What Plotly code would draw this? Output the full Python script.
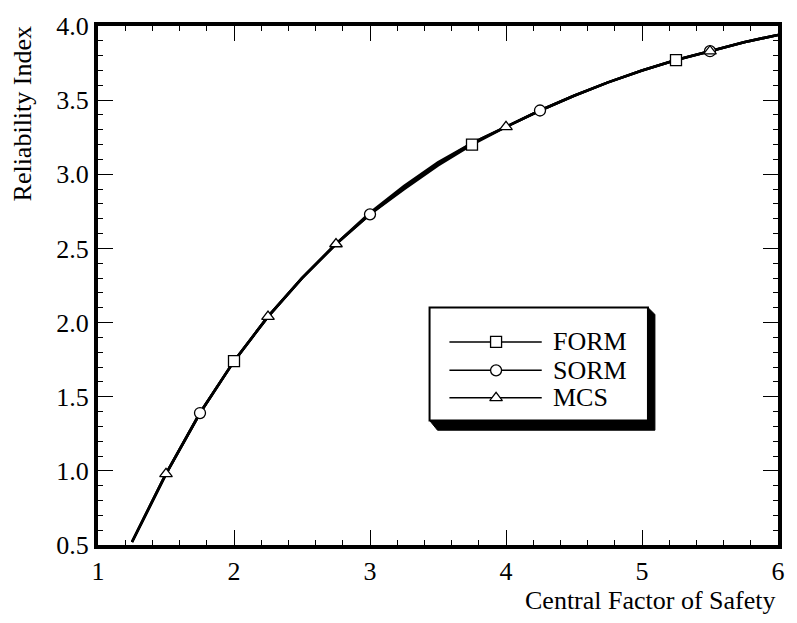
import plotly.graph_objects as go

# ---- data ----
cfs = [1.25, 1.5, 1.75, 2.0, 2.25, 2.5, 2.75, 3.0, 3.25, 3.5, 3.75,
       4.0, 4.25, 4.5, 4.75, 5.0, 5.25, 5.5, 5.75, 6.0]
beta_form = [0.52, 0.98, 1.39, 1.74, 2.04, 2.30, 2.53, 2.73, 2.90, 3.06, 3.20,
             3.32, 3.43, 3.53, 3.62, 3.70, 3.77, 3.83, 3.89, 3.94]
beta_sorm = [0.52, 0.98, 1.39, 1.74, 2.04, 2.30, 2.53, 2.73, 2.91, 3.07, 3.21,
             3.32, 3.43, 3.53, 3.62, 3.70, 3.77, 3.83, 3.89, 3.94]
beta_mcs = [0.52, 0.98, 1.39, 1.74, 2.04, 2.30, 2.53, 2.74, 2.92, 3.08, 3.21,
            3.32, 3.43, 3.53, 3.62, 3.70, 3.77, 3.83, 3.89, 3.94]
form_marks = [2.0, 3.75, 5.25]
sorm_marks = [1.75, 3.0, 4.25, 5.5]
mcs_marks = [1.5, 2.25, 2.75, 4.0, 5.5]
series_names = ["FORM", "SORM", "MCS"]
series_symbols = ["square", "circle", "triangle-up"]
x_ticks = [1, 2, 3, 4, 5, 6]
y_ticks = [0.5, 1.0, 1.5, 2.0, 2.5, 3.0, 3.5, 4.0]

FONT = "Liberation Serif"
FS = 26
series = [(beta_form, form_marks), (beta_sorm, sorm_marks), (beta_mcs, mcs_marks)]

fig = go.Figure()
for (ys, marks), name, sym in zip(series, series_names, series_symbols):
    fig.add_trace(go.Scatter(x=cfs, y=ys, mode="lines", showlegend=False,
                             line=dict(color="black", width=2.6)))
for (ys, marks), name, sym in zip(series, series_names, series_symbols):
    my = [ys[cfs.index(m)] for m in marks]
    fig.add_trace(go.Scatter(x=marks, y=my, mode="markers", showlegend=False,
                             marker=dict(symbol=sym, size=11,
                                         color="white", line=dict(color="black", width=1.3))))

# ---- hand-drawn legend on an overlay pixel-scaled axis ----
L, T, R, B = 432, 303, 652, 418
shapes = [
    dict(type="path", xref="x2", yref="y2", layer="below",
         path=f"M {R} {T} L {R+7} {T+7} L {R+7} {B+10} L {L+8} {B+10} L {L} {B} Z",
         fillcolor="black", line=dict(color="black", width=1)),
    dict(type="rect", xref="x2", yref="y2", layer="below", x0=L, y0=T, x1=R, y1=B,
         fillcolor="white", line=dict(color="black", width=2)),
]
row_y = [338, 367, 395]
for yy, name, sym in zip(row_y, series_names, series_symbols):
    shapes.append(dict(type="line", xref="x2", yref="y2", layer="below",
                       x0=452, x1=545, y0=yy, y1=yy, line=dict(color="black", width=1.5)))
    fig.add_trace(go.Scatter(x=[499], y=[yy], xaxis="x2", yaxis="y2", mode="markers",
                             showlegend=False, hoverinfo="skip",
                             marker=dict(symbol=sym, size=11, color="white",
                                         line=dict(color="black", width=1.3))))
annotations = [dict(xref="x2", yref="y2", x=554, y=yy, text=name, showarrow=False,
                    xanchor="left", yanchor="middle",
                    font=dict(family=FONT, size=FS, color="black"))
               for yy, name in zip(row_y, series_names)]

annotations.append(dict(xref="paper", yref="paper", x=1.0, y=-0.106, xanchor="right",
                        yanchor="middle", text="Central Factor of Safety", showarrow=False,
                        font=dict(family=FONT, size=FS, color="black")))
annotations.append(dict(xref="paper", yref="paper", x=-0.111, y=1.003, xanchor="center",
                        yanchor="top", textangle=-90, text="Reliability Index",
                        showarrow=False, font=dict(family=FONT, size=FS, color="black")))

axis_common = dict(showline=True, linecolor="black", linewidth=4, mirror="allticks",
                   ticks="inside", ticklen=15, tickwidth=1.3, tickcolor="black",
                   showgrid=False, zeroline=False,
                   tickfont=dict(family=FONT, size=FS, color="black"))

fig.update_layout(
    width=797, height=623,
    margin=dict(l=98, r=14, t=16, b=78),
    paper_bgcolor="white", plot_bgcolor="white",
    showlegend=False,
    xaxis=dict(range=[1, 6], tickvals=x_ticks, ticktext=[str(v) for v in x_ticks],
               minor=dict(dtick=0.2, ticklen=5, ticks="inside", tickcolor="black", tickwidth=1),
               **axis_common),
    yaxis=dict(range=[0.5, 4.0], tickvals=y_ticks, ticktext=[f"{v:.1f}" for v in y_ticks],
               minor=dict(dtick=0.1, ticklen=5, ticks="inside", tickcolor="black", tickwidth=1),
               **axis_common),
    xaxis2=dict(overlaying="x", range=[98, 783], visible=False),
    yaxis2=dict(overlaying="y", range=[545, 16], visible=False),
    shapes=shapes,
    annotations=annotations,
)

fig.write_html("out.html")
